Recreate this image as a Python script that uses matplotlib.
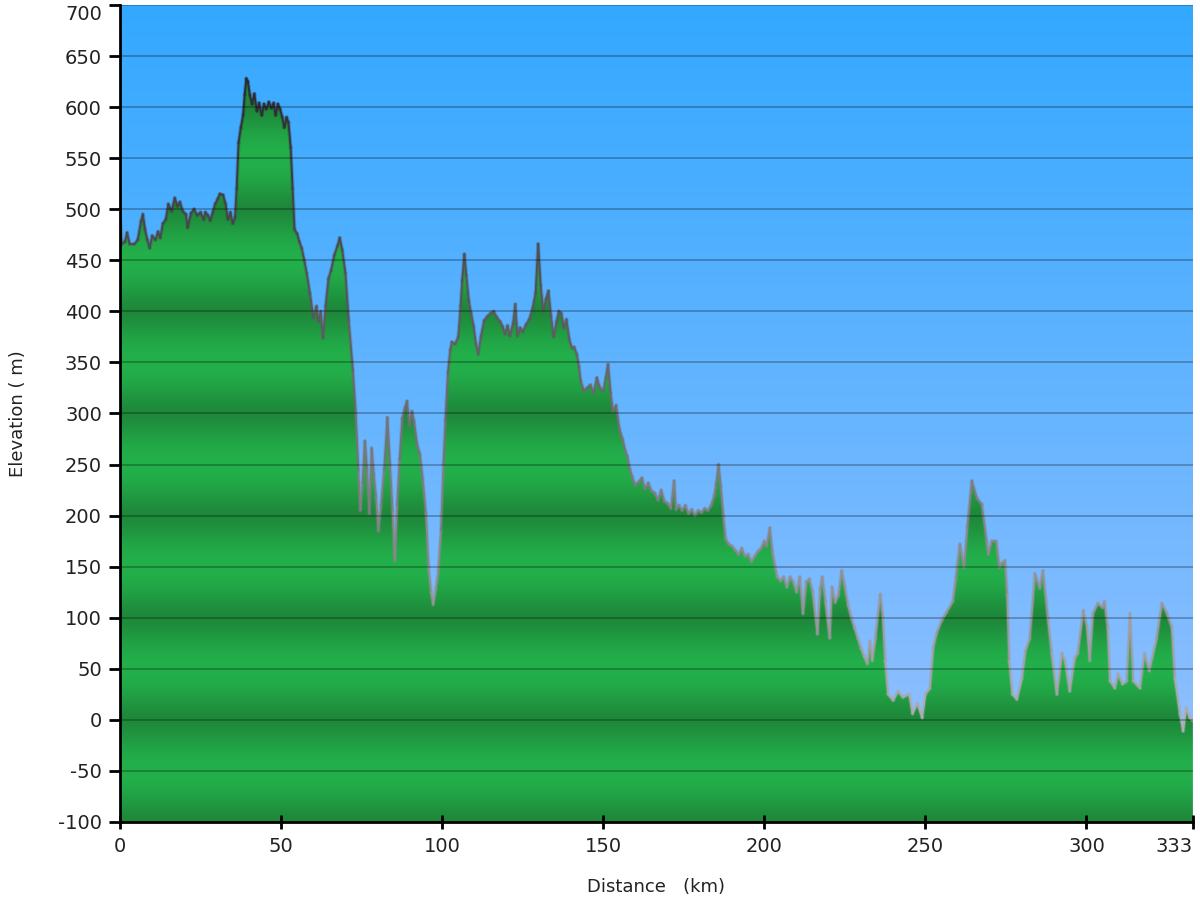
import numpy as np
import matplotlib
matplotlib.use('Agg')
import matplotlib.pyplot as plt
from matplotlib.patches import Polygon
from matplotlib.collections import LineCollection

distance_km = [
    0, 0.5, 1.5, 2.2, 3, 4.5, 5.5, 6.5, 7.1, 7.8, 8.5, 9.2, 10, 11, 11.8, 12.5, 13.3, 14.2, 15, 16,
    17, 17.8, 18.6, 19.5, 20.5, 21, 22, 23, 24, 25, 26, 26.5, 27.3, 28, 28.8, 29.5, 30.3, 31, 32, 32.8,
    33.5, 34.3, 35, 35.7, 36.2, 36.8, 37.5, 38.2, 38.7, 39.2, 39.7, 40.3, 41, 41.7, 42.5, 43.2, 44, 44.7, 45.4, 46.2,
    47, 47.7, 48.3, 49, 49.7, 50.4, 51, 51.7, 52.3, 53, 53.6, 54.2, 55, 55.7, 56.4, 57.2, 58, 59, 60, 61,
    61.6, 62.3, 63, 63.8, 64.7, 65.5, 66.5, 67.5, 68.2, 69, 70, 71, 72.3, 73.2, 74, 74.6, 75.3, 76, 76.7, 77.4,
    78.1, 78.8, 79.5, 80.2, 81, 82, 83, 83.8, 84.6, 85.3, 86, 86.8, 87.6, 88.4, 89.1, 89.8, 90.6, 91.3, 92.2, 93.1,
    94, 95, 95.8, 96.6, 97.2, 98, 98.8, 99.6, 100.4, 101, 101.8, 102.5, 103, 104, 105, 105.7, 106.2, 106.9, 107.5, 108.3,
    109, 109.8, 110.5, 111.2, 112, 113, 114, 115, 116, 117, 118, 118.8, 119.5, 120.3, 121, 122, 122.7, 123.4, 124.2, 125,
    126, 127, 128, 129, 129.8, 130.6, 131.4, 132.2, 133, 133.8, 134.6, 135.5, 136.2, 137, 137.8, 138.6, 139.5, 140.3, 141, 141.8,
    142.5, 143, 144, 145, 146, 147, 148, 149, 150, 150.8, 151.5, 152.3, 153, 154, 155, 156, 156.8, 157.5, 158.3, 159,
    160, 161, 162, 163, 164, 165, 166, 167, 168, 169, 170, 171, 172, 172.6, 173.5, 174.5, 175.5, 176.5, 177.5, 178.5,
    179.5, 180.5, 181.5, 182.5, 183.5, 184.5, 185, 185.8, 186.5, 187.3, 188, 189, 190, 191, 192, 193, 194, 195, 196, 197,
    198, 199, 200, 200.7, 201.7, 202.5, 203.3, 204, 205, 206, 207, 208, 209, 210, 211, 212, 213, 214, 215, 216.5,
    217.3, 218, 219, 220.3, 221, 222, 223, 224, 225, 226, 227, 228, 229, 230, 231, 232, 232.8, 233.5, 234.5, 236,
    236.8, 237.5, 238.4, 240, 241.5, 243, 245, 246, 247.5, 249, 250, 251.4, 252.4, 253.5, 255, 256.5, 258.5, 259.5, 260.7, 262,
    263, 264.4, 266, 267.5, 269, 269.5, 270.6, 272, 273, 273.7, 274.7, 275.4, 276, 277, 278.4, 280, 281, 282.4, 284, 285.5,
    286.5, 288, 289.2, 290.8, 292.4, 293.3, 294.8, 296.4, 297.3, 299, 300.2, 301, 302, 303.5, 305, 305.6, 306.6, 307.3, 308.8, 309.8,
    311.2, 312.5, 313.5, 314.5, 316.6, 318, 319.5, 321.8, 323.4, 325, 326.5, 327.4, 329, 330, 331, 332, 333,
]
elevation_m = [
    495, 466, 468, 477, 466, 466, 470, 488, 495, 480, 470, 462, 474, 470, 478, 472, 486, 490, 505, 498,
    511, 503, 507, 498, 495, 482, 496, 500, 494, 497, 490, 497, 494, 489, 497, 505, 510, 515, 514, 505,
    490, 497, 486, 492, 520, 565, 580, 592, 612, 628, 625, 612, 603, 613, 596, 604, 592, 603, 598, 605,
    599, 604, 592, 603, 598, 590, 580, 590, 585, 560, 520, 480, 476, 468, 462, 450, 437, 417, 394, 405,
    390, 400, 374, 405, 432, 440, 455, 464, 472, 460, 437, 391, 342, 300, 244, 205, 232, 273, 245, 202,
    266, 240, 218, 185, 210, 245, 296, 250, 205, 156, 210, 255, 295, 305, 312, 288, 302, 292, 270, 260,
    235, 202, 150, 125, 113, 128, 146, 185, 250, 293, 340, 362, 370, 368, 375, 405, 430, 456, 435, 410,
    398, 385, 368, 358, 375, 391, 395, 398, 400, 394, 390, 385, 378, 386, 376, 388, 407, 376, 384, 380,
    387, 392, 402, 418, 466, 425, 400, 412, 420, 395, 375, 390, 400, 398, 384, 392, 372, 364, 365, 358,
    345, 332, 322, 325, 328, 320, 335, 325, 322, 335, 348, 320, 302, 308, 285, 275, 264, 258, 245, 238,
    230, 233, 237, 226, 232, 224, 222, 215, 225, 214, 212, 207, 234, 206, 210, 205, 210, 202, 206, 200,
    205, 203, 207, 205, 210, 220, 230, 250, 228, 200, 177, 172, 170, 166, 162, 168, 160, 162, 155, 160,
    165, 168, 175, 170, 188, 165, 150, 140, 136, 140, 130, 140, 135, 125, 140, 104, 135, 138, 125, 84,
    128, 140, 115, 80, 130, 115, 122, 146, 130, 112, 100, 90, 80, 70, 62, 55, 77, 58, 80, 123,
    100, 58, 25, 19, 28, 22, 25, 6, 16, 2, 25, 31, 70, 85, 97, 105, 116, 140, 172, 149,
    188, 234, 217, 211, 175, 162, 175, 175, 149, 153, 156, 123, 58, 25, 20, 41, 67, 80, 143, 129,
    146, 100, 65, 25, 65, 58, 28, 61, 65, 107, 90, 58, 104, 114, 110, 116, 90, 38, 31, 45,
    35, 38, 104, 38, 31, 65, 48, 80, 114, 104, 90, 41, 6, -11, 12, 2, -1,
]
y_ticks = list(range(-100, 701, 50))
y_tick_labels = [str(v) for v in y_ticks]
x_ticks = [0, 50, 100, 150, 200, 250, 300, 333]
x_tick_labels = ['0', '50', '100', '150', '200', '250', '300', '333']

x = np.array(distance_km, dtype=float)
y = np.array(elevation_m, dtype=float)
xmin, xmax, ymin, ymax = 0, 333, -100, 700

fig = plt.figure(figsize=(12, 9), dpi=100)
ax = fig.add_axes([0.1, 0.0867, 0.894, 0.9078])
ax.set_xlim(xmin, xmax)
ax.set_ylim(ymin, ymax)

# sky gradient
yy = np.linspace(ymax, ymin, 400)[:, None]
t = (ymax - yy) / (ymax - ymin)
top = np.array([0.20, 0.66, 1.0])
bot = np.array([0.60, 0.76, 1.0])
bg = top + t[..., None] * (bot - top)
ax.imshow(bg, extent=[xmin, xmax, ymin, ymax], aspect='auto', origin='upper',
          zorder=0, interpolation='bilinear')

# banded green terrain
yy2 = np.linspace(ymax, ymin, 1600)[:, None]
f = 0.5 - 0.5 * np.cos(2 * np.pi * yy2 / 100.0)
f = f ** 0.7
dark = np.array([30, 136, 58]) / 255.0
light = np.array([35, 176, 75]) / 255.0
green = dark + f[..., None] * (light - dark)
im = ax.imshow(green, extent=[xmin, xmax, ymin, ymax], aspect='auto', origin='upper',
               zorder=1, interpolation='bilinear')
verts = np.column_stack([np.r_[x, x[-1], x[0]], np.r_[y, ymin, ymin]])
poly = Polygon(verts, closed=True, facecolor='none', edgecolor='none', transform=ax.transData)
ax.add_patch(poly)
im.set_clip_path(poly)

# outline, darker at higher elevation
pts = np.column_stack([x, y])
segs = np.stack([pts[:-1], pts[1:]], axis=1)
ymid = 0.5 * (y[:-1] + y[1:])
g = np.clip(0.68 - 0.50 * (ymid / 600.0), 0.15, 0.72)
cols = np.clip(np.column_stack([g, g, g + 0.02]), 0, 1)
halo = LineCollection(segs, colors=cols, linewidths=2.8, alpha=0.3, zorder=2.5,
                      capstyle='round', joinstyle='round')
ax.add_collection(halo)
lc = LineCollection(segs, colors=cols, linewidths=1.3, zorder=3,
                    capstyle='round', joinstyle='round')
ax.add_collection(lc)

for v in y_ticks:
    ax.axhline(v, color='black', alpha=0.28, lw=1.3, zorder=4)

for s in ['top', 'right']:
    ax.spines[s].set_visible(False)
for s in ['left', 'bottom']:
    ax.spines[s].set_linewidth(2)
    ax.spines[s].set_color('black')
    ax.spines[s].set_zorder(5)

ax.set_yticks(y_ticks)
ax.set_yticklabels(y_tick_labels)
ax.set_xticks(x_ticks)
ax.set_xticklabels(x_tick_labels)
ax.tick_params(axis='y', direction='out', length=8, width=2, labelsize=14, pad=5,
               labelcolor='#222222')
ax.tick_params(axis='x', direction='inout', length=10, width=2, labelsize=14, pad=6,
               labelcolor='#222222')
xl = ax.get_xticklabels()
xl[-1].set_horizontalalignment('right')
yl = ax.get_yticklabels()
yl[-1].set_verticalalignment('top')

ax.set_ylabel('Elevation ( m)', fontsize=13, color='#222222', labelpad=22)
ax.set_xlabel('Distance   (km)', fontsize=13, color='#222222', labelpad=16)

fig.savefig('out.png', dpi=100)
